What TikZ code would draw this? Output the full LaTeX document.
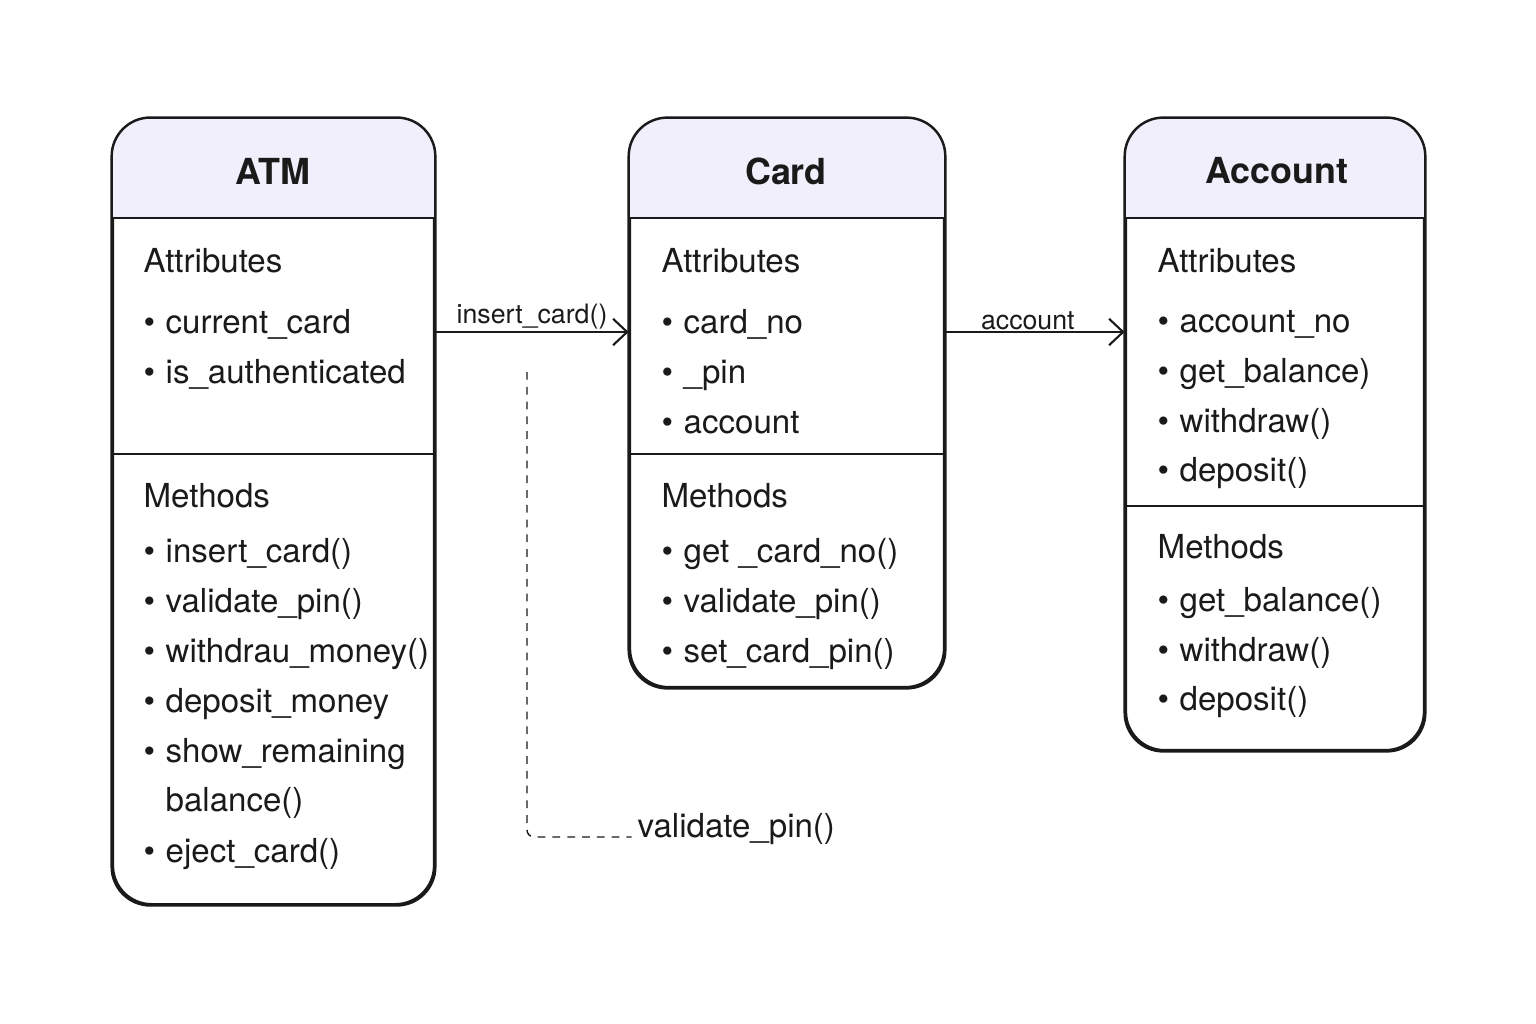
\documentclass[tikz,border=0pt]{standalone}
\usepackage{fontspec}
\setmainfont{TeX Gyre Heros}
\usetikzlibrary{arrows.meta}
\definecolor{hdrfill}{HTML}{F1EFFB}
\definecolor{ink}{HTML}{1A1A1A}
\newcommand{\bitem}[1]{\makebox[6.26pt][l]{\textbullet}#1}
\tikzset{
  classbox/.style={draw=ink, line width=0.7pt, rounded corners=11pt, inner sep=0pt},
  classname/.style={font=\fontsize{10.2}{12}\selectfont\bfseries, text=ink},
  secttext/.style={anchor=base west, inner sep=0pt, font=\fontsize{9.4}{11}\selectfont, text=ink},
  itemtext/.style={secttext},
  assoc/.style={-{Straight Barb[length=4pt,width=7.5pt]}, line width=0.6pt, draw=ink},
  assoclabel/.style={font=\fontsize{7.6}{9}\selectfont, text=ink, inner sep=0.4pt},
  dashline/.style={draw=ink, line width=0.4pt, dash pattern=on 2.2pt off 2pt, rounded corners=2pt},
}
\begin{document}
\begin{tikzpicture}[x=0.01cm, y=-0.01cm]
    \useasboundingbox (0,0) rectangle (1536,1024);
    % class boxes
    \node[classbox, minimum width=3.21cm, minimum height=7.85cm] (atm) at (273.5,511.5) {};
    \node[classbox, minimum width=3.14cm, minimum height=5.68cm] (card) at (787,403) {};
    \node[classbox, minimum width=2.98cm, minimum height=6.31cm] (account) at (1275,434.5) {};
    % header fills
    \foreach \c in {atm, card, account} {
        \begin{scope}
            \clip[rounded corners=11pt] (\c.south west) rectangle (\c.north east);
            \fill[hdrfill] (\c.north west) rectangle (\c.east |- 0,218);
        \end{scope}
        \draw[classbox] (\c.south west) rectangle (\c.north east);
        \draw[draw=ink, line width=0.7pt] (\c.west |- 0,218) -- (\c.east |- 0,218);
    }
    \draw[draw=ink, line width=0.7pt] (atm.west |- 0,454) -- (atm.east |- 0,454);
    \draw[draw=ink, line width=0.7pt] (card.west |- 0,454) -- (card.east |- 0,454);
    \draw[draw=ink, line width=0.7pt] (account.west |- 0,506) -- (account.east |- 0,506);
    % titles
    \node[classname] (atmname) at (273,171) {ATM};
    \node[classname] (cardname) at (786,171) {Card};
    \node[classname] (accountname) at (1277,171) {Account};
    % ATM
    \node[secttext] (atmattr) at (143,272) {Attributes};
    \foreach \txt [count=\i] in {current\_card, is\_authenticated}
        \node[itemtext] (atma\i) at (143,283+50*\i) {\bitem{\txt}};
    \node[secttext] (atmmeth) at (143,507) {Methods};
    \foreach \txt [count=\i] in {insert\_card(), validate\_pin(), withdrau\_money(), deposit\_money, show\_remaining}
        \node[itemtext] (atmm\i) at (143,512+50*\i) {\bitem{\txt}};
    \node[itemtext] (atmm6) at (165,811) {balance()};
    \node[itemtext] (atmm7) at (143,862) {\bitem{eject\_card()}};
    % Card
    \node[secttext] (cardattr) at (661,272) {Attributes};
    \foreach \txt [count=\i] in {card\_no, \_pin, account}
        \node[itemtext] (carda\i) at (661,283+50*\i) {\bitem{\txt}};
    \node[secttext] (cardmeth) at (661,507) {Methods};
    \foreach \txt [count=\i] in {get \_card\_no(), validate\_pin(), set\_card\_pin()}
        \node[itemtext] (cardm\i) at (661,512+50*\i) {\bitem{\txt}};
    % Account
    \node[secttext] (accattr) at (1157,272) {Attributes};
    \foreach \txt [count=\i] in {account\_no, get\_balance), withdraw(), deposit()}
        \node[itemtext] (acca\i) at (1157,283+49.7*\i) {\bitem{\txt}};
    \node[secttext] (accmeth) at (1157,558) {Methods};
    \foreach \txt [count=\i] in {get\_balance(), withdraw(), deposit()}
        \node[itemtext] (accm\i) at (1157,562+49.6*\i) {\bitem{\txt}};
    % connectors
    \draw[assoc] (atm.east |- 0,332) -- (card.west |- 0,332)
        node[assoclabel, midway, above] (lblinsert) {insert\_card()};
    \draw[assoc] (card.east |- 0,332) -- (account.west |- 0,332)
        node[assoclabel, pos=0.46, above] (lblaccount) {account};
    \coordinate (vstart) at (527,372);
    \node[secttext] (vpin) at (637,837) {validate\_pin()};
    \draw[dashline] (vstart) |- ([xshift=-1.5pt]vpin.base west);
\end{tikzpicture}
\end{document}
